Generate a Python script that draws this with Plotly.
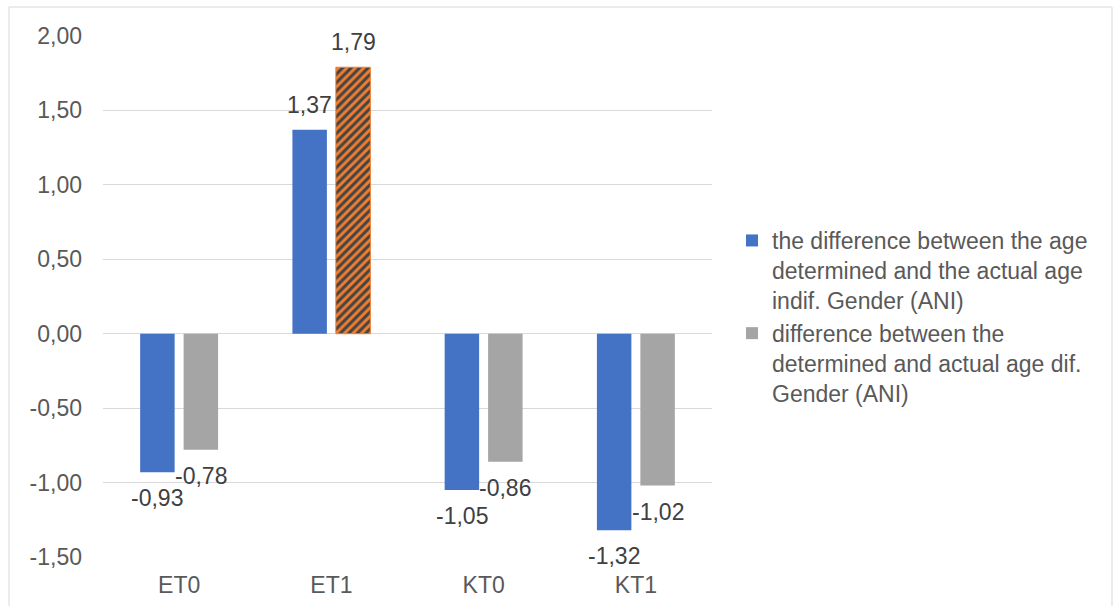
import plotly.graph_objects as go

# Data
categories = ["ET0", "ET1", "KT0", "KT1"]
ani_indif = [-0.93, 1.37, -1.05, -1.32]
ani_dif = [-0.78, 1.79, -0.86, -1.02]
y_ticks = [-1.5, -1.0, -0.5, 0.0, 0.5, 1.0, 1.5, 2.0]
series_names = [
    "the difference between the age<br>determined and the actual age<br>indif. Gender (ANI)",
    "difference between the<br>determined and actual age dif.<br>Gender (ANI)",
]

# Styling
W, H = 1113, 606
M_L, M_R, M_T, M_B = 103, 401, 36, 49
BLUE, GRAY, ORANGE = "#4472C4", "#A5A5A5", "#ED7D31"
TEXT = "#595959"
GRID = "#D9D9D9"
FONT = "Liberation Sans, Arial, sans-serif"
FS = 23
BARGAP, GROUPGAP = 0.429, 0.207


def fmt(v):
    return f"{v:.2f}".replace(".", ",")


dif_colors = [ORANGE if c == "ET1" else GRAY for c in categories]
dif_shapes = ["/" if c == "ET1" else "" for c in categories]
dif_edge = [1 if c == "ET1" else 0 for c in categories]

fig = go.Figure()
fig.add_trace(go.Bar(
    x=categories, y=ani_indif, name=series_names[0],
    marker=dict(color=BLUE, line=dict(width=0)),
))
fig.add_trace(go.Bar(
    x=categories, y=ani_dif, name=series_names[1],
    marker=dict(
        color=dif_colors, line=dict(width=dif_edge, color=dif_colors),
        pattern=dict(shape=dif_shapes, fgcolor="#3A3A3A", bgcolor=dif_colors,
                     fgopacity=1, size=6, solidity=0.5, fillmode="overlay"),
    ),
))

# value labels, centred on each bar and pushed past its end
plot_w = W - M_L - M_R
plot_h = H - M_T - M_B
offset = plot_w / len(categories) * (1 - BARGAP) / 4
for i, vals in enumerate([ani_indif, ani_dif]):
    side = -1 if i == 0 else 1
    for c, v in zip(categories, vals):
        fig.add_annotation(
            x=c, y=v, text=fmt(v), showarrow=False,
            xshift=side * offset, yshift=25 if v >= 0 else -26,
            font=dict(family=FONT, size=FS, color="#404040"),
        )

# outer chart frame (left and top edges visible)
fig.add_shape(
    type="rect", xref="paper", yref="paper",
    x0=(9 - M_L) / plot_w, x1=(1112 - M_L) / plot_w,
    y0=-0.3, y1=1 + (M_T - 7) / plot_h,
    line=dict(color=GRID, width=1), layer="below",
)

fig.update_layout(
    width=W, height=H,
    margin=dict(l=M_L, r=M_R, t=M_T, b=M_B, autoexpand=False),
    paper_bgcolor="white", plot_bgcolor="white",
    barmode="group", bargap=BARGAP, bargroupgap=GROUPGAP,
    font=dict(family=FONT, size=FS, color=TEXT),
    showlegend=True,
    legend=dict(
        x=(732 - M_L) / plot_w, xanchor="left",
        y=1 - (219 - M_T) / plot_h, yanchor="top",
        valign="top", tracegroupgap=6,
        font=dict(family=FONT, size=FS, color=TEXT),
        bgcolor="rgba(0,0,0,0)",
    ),
    xaxis=dict(
        showgrid=False, showline=False, ticks="", automargin=False,
        ticklabelstandoff=12,
        tickfont=dict(family=FONT, size=FS, color=TEXT),
    ),
    yaxis=dict(
        range=[-1.5, 2.0], tickvals=y_ticks, ticktext=[fmt(t) for t in y_ticks],
        showgrid=True, gridcolor=GRID, gridwidth=1, automargin=False,
        zeroline=True, zerolinecolor=GRID, zerolinewidth=1,
        showline=False, ticks="", ticklabelstandoff=20,
        tickfont=dict(family=FONT, size=FS, color=TEXT),
    ),
)

fig.write_html("out.html")
